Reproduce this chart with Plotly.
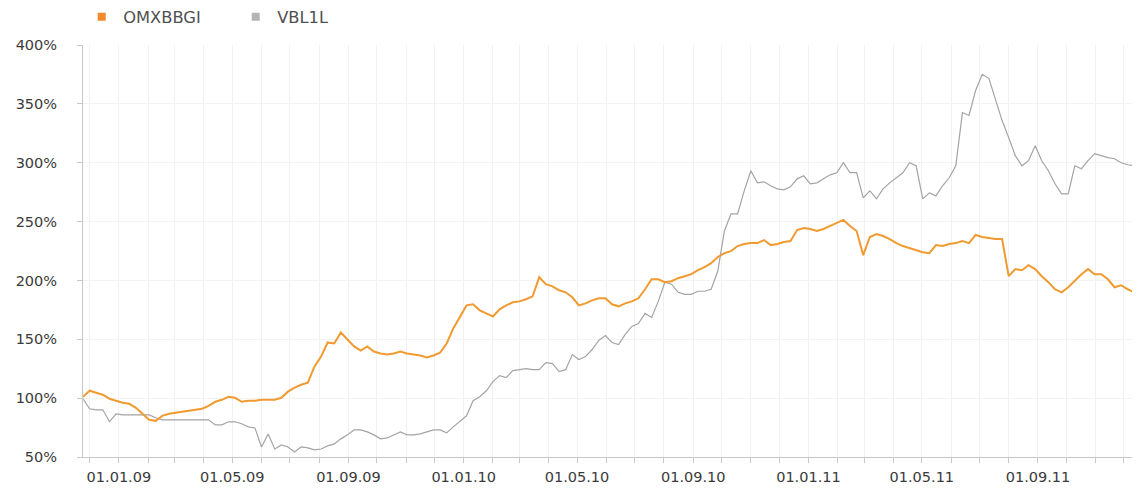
import pandas as pd
import plotly.graph_objects as go

# Weekly observations starting 24.11.2008 (values in % of start level)
start_date = "2008-11-24"

omxbbgi = [101.2, 106.3, 104.6, 102.9, 99.5, 97.8, 96.1, 95.2, 91.8, 86.7,
           81.6, 80.7, 85.0, 86.7, 87.5, 88.4, 89.2, 90.1, 91.0, 93.5,
           96.9, 98.6, 101.2, 100.3, 96.9, 97.8, 97.8, 98.6, 98.6, 98.6,
           100.3, 105.5, 108.9, 111.4, 113.1, 126.8, 135.3, 147.3, 146.4, 155.8,
           149.8, 143.9, 140.4, 143.9, 139.6, 137.9, 137.0, 137.9, 139.6, 137.9,
           137.0, 136.2, 134.5, 136.2, 138.7, 146.4, 159.2, 169.4, 178.8, 179.7,
           174.6, 172.0, 169.4, 175.4, 178.8, 181.4, 182.2, 184.0, 186.5, 202.7,
           196.8, 195.0, 191.6, 189.9, 185.7, 178.8, 180.5, 183.1, 184.8, 184.8,
           179.7, 178.0, 180.5, 182.2, 184.8, 192.5, 201.0, 201.0, 198.5, 199.3,
           201.9, 203.6, 205.3, 208.7, 211.3, 214.7, 219.8, 223.2, 224.9, 229.2,
           230.9, 231.7, 231.7, 234.3, 230.0, 230.9, 232.6, 233.4, 242.8, 244.5,
           243.7, 242.0, 243.7, 246.3, 248.8, 251.4, 246.3, 242.0, 221.5, 236.9,
           239.4, 237.7, 235.1, 231.7, 229.2, 227.5, 225.8, 224.0, 223.2, 230.0,
           229.2, 230.9, 231.7, 233.4, 231.7, 238.6, 236.9, 236.0, 235.1, 235.1,
           203.6, 209.6, 208.7, 213.0, 209.6, 203.6, 198.5, 192.5, 189.9, 194.2,
           200.2, 205.3, 209.6, 205.3, 205.3, 201.0, 194.2, 195.9, 192.5, 189.9,
           188.2]

vbl1l = [99.5, 91.0, 90.1, 90.1, 79.9, 86.7, 85.8, 85.8, 85.8, 85.8,
         85.8, 83.3, 81.6, 81.6, 81.6, 81.6, 81.6, 81.6, 81.6, 81.6,
         77.3, 77.3, 79.9, 79.9, 78.2, 75.6, 74.7, 58.5, 69.6, 56.8,
         60.2, 58.5, 54.3, 58.5, 57.7, 56.0, 56.8, 59.4, 61.1, 65.4,
         68.8, 73.0, 73.0, 71.3, 68.8, 65.4, 66.2, 68.8, 71.3, 68.8,
         68.8, 69.6, 71.3, 73.0, 73.0, 70.5, 75.6, 79.9, 85.0, 97.8,
         101.2, 106.3, 114.0, 119.1, 117.4, 123.4, 124.2, 125.1, 124.2, 124.2,
         130.2, 129.3, 122.5, 124.2, 137.0, 132.8, 135.3, 141.3, 149.0, 153.2,
         147.3, 145.6, 154.1, 160.9, 163.4, 172.0, 168.6, 182.2, 198.5, 196.8,
         189.9, 188.2, 188.2, 190.8, 190.8, 192.5, 207.8, 242.0, 256.5, 256.5,
         276.1, 293.2, 282.9, 283.8, 280.4, 277.8, 277.0, 279.5, 286.3, 288.9,
         282.1, 282.9, 286.3, 289.7, 291.5, 300.0, 291.5, 291.5, 270.1, 276.1,
         269.3, 277.8, 282.9, 287.2, 291.5, 300.0, 297.4, 269.3, 274.4, 271.8,
         280.4, 287.2, 297.4, 342.6, 340.1, 361.4, 375.1, 371.7, 354.6, 335.8,
         321.3, 306.0, 297.4, 301.7, 314.5, 301.7, 293.2, 282.1, 273.5, 273.5,
         297.4, 294.9, 301.7, 307.7, 306.0, 304.3, 303.4, 300.0, 298.3, 297.4,
         295.7]

series_names = ["OMXBBGI", "VBL1L"]
x_tick_labels = ["01.01.09", "01.05.09", "01.09.09", "01.01.10", "01.05.10",
                 "01.09.10", "01.01.11", "01.05.11", "01.09.11"]
y_ticks = [50, 100, 150, 200, 250, 300, 350, 400]

dates = pd.date_range(start_date, periods=len(omxbbgi), freq="7D")

orange = "#f09a30"
grey = "#a4a4a4"
font_fam = "DejaVu Sans, Liberation Sans, Arial, sans-serif"

fig = go.Figure()
fig.add_trace(go.Scatter(x=dates, y=vbl1l, mode="lines", name=series_names[1],
                         line=dict(color=grey, width=1.2), showlegend=False))
fig.add_trace(go.Scatter(x=dates, y=omxbbgi, mode="lines", name=series_names[0],
                         line=dict(color=orange, width=2), showlegend=False))
# legend entries (square swatches)
fig.add_trace(go.Scatter(x=[None], y=[None], mode="markers", name=series_names[0],
                         marker=dict(symbol="square", size=8, color="#f08a2a")))
fig.add_trace(go.Scatter(x=[None], y=[None], mode="markers", name=series_names[1],
                         marker=dict(symbol="square", size=8, color="#b4b4b4")))

month_ticks = pd.date_range("2008-12-01", "2011-12-01", freq="MS")
label_map = {pd.Timestamp(pd.to_datetime(t, format="%d.%m.%y")): t for t in x_tick_labels}
tick_text = [label_map.get(m, "") for m in month_ticks]

# the page body adds an 8px offset, so the figure is sized to the visible area
fig.update_layout(
    width=1132, height=486,
    margin=dict(l=75, r=0, t=37, b=37),
    paper_bgcolor="white", plot_bgcolor="white",
    font=dict(family=font_fam, size=14.5, color="#3a3a3a"),
    legend=dict(orientation="h", xref="container", yref="container",
                x=0.0638, y=0.981, xanchor="left", yanchor="middle",
                font=dict(size=16.3, color="#505050"), entrywidth=106,
                itemwidth=33, itemclick=False),
    xaxis=dict(type="date", range=["2008-11-24", "2011-12-18"],
               tickvals=month_ticks, ticktext=tick_text,
               showgrid=True, gridcolor="#f1f1f1", gridwidth=1,
               showline=True, linecolor="#c8c8c8", linewidth=1,
               ticks="outside", ticklen=5, tickcolor="#c8c8c8",
               ticklabelstandoff=2, zeroline=False),
    yaxis=dict(range=[50, 400], tickvals=y_ticks,
               ticktext=[f"{v}%" for v in y_ticks],
               showgrid=True, gridcolor="#f3f3f3",
               showline=True, linecolor="#c8c8c8", linewidth=1,
               ticks="outside", ticklen=5, tickcolor="#c8c8c8",
               ticklabelstandoff=17, zeroline=False),
)

fig.write_html("out.html")
